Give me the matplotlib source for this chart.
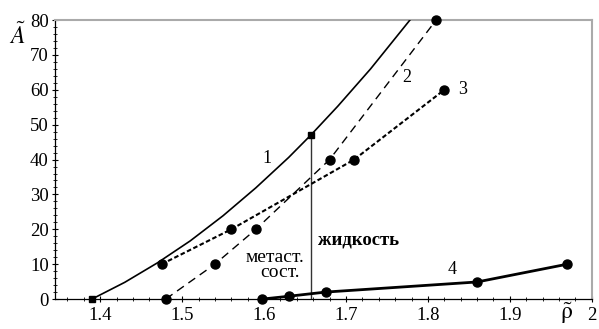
import matplotlib
matplotlib.use("Agg")
import matplotlib.pyplot as plt
from matplotlib.ticker import MultipleLocator

plt.rcParams['font.family'] = ['Liberation Serif', 'DejaVu Serif']
plt.rcParams['mathtext.fontset'] = 'stix'

# Curve 1 (solid)
c1_x = [1.39, 1.43, 1.47, 1.51, 1.55, 1.59, 1.63, 1.657, 1.69, 1.73, 1.778]
c1_y = [0.0, 4.8, 10.4, 16.7, 23.9, 31.9, 40.6, 47.0, 55.3, 66.0, 80.0]
c1_sq_x = [1.39, 1.657]
c1_sq_y = [0.0, 47.0]

# Curve 2 (long dashes)
c2_x = [1.48, 1.54, 1.59, 1.68, 1.81]
c2_y = [0, 10, 20, 40, 80]

# Curve 3 (short dashes)
c3_x = [1.475, 1.56, 1.71, 1.82]
c3_y = [10, 20, 40, 60]

# Curve 4 (thick solid)
c4_x = [1.598, 1.63, 1.675, 1.86, 1.97]
c4_y = [0, 0.8, 2.0, 4.9, 10]

# vertical separator
vline_x = 1.657
vline_top = 47.0

xticks = [1.4, 1.5, 1.6, 1.7, 1.8, 1.9, 2.0]
xticklabels = ['1.4', '1.5', '1.6', '1.7', '1.8', '1.9', '2']
yticks = [0, 10, 20, 30, 40, 50, 60, 70, 80]

fig = plt.figure(figsize=(5.99, 3.29), dpi=100)
ax = fig.add_axes([0.092, 0.091, 0.896, 0.848])

ax.plot([vline_x, vline_x], [0, vline_top], color='#333333', lw=1.0, zorder=1)

ax.plot(c1_x, c1_y, color='black', lw=1.2, zorder=3)
ax.plot(c1_sq_x, c1_sq_y, linestyle='none', marker='s', ms=5, color='black', zorder=4, clip_on=False)

ax.plot(c2_x, c2_y, color='black', lw=1.0, dashes=(6, 4), marker='o', ms=6.5,
        zorder=3, clip_on=False)
ax.plot(c3_x, c3_y, color='black', lw=1.5, dashes=(2.2, 1.2), marker='o', ms=6.5,
        zorder=3, clip_on=False)
ax.plot(c4_x, c4_y, color='black', lw=2.0, marker='o', ms=6.5, zorder=3, clip_on=False)

fs = 13.5
ax.text(1.604, 40.4, '1', fontsize=13, ha='center', va='center')
ax.text(1.774, 63.6, '2', fontsize=13, ha='center', va='center')
ax.text(1.842, 60.0, '3', fontsize=13, ha='center', va='center')
ax.text(1.829, 8.5, '4', fontsize=13, ha='center', va='center')
ax.text(1.613, 12.0, 'метаст.', fontsize=14, ha='center', va='center')
ax.text(1.619, 7.6, 'сост.', fontsize=14, ha='center', va='center')
ax.text(1.666, 17.0, 'жидкость', fontsize=13.5, ha='left', va='center', fontweight='bold')

ax.set_xlim(1.345, 2.0)
ax.set_ylim(0, 80)
ax.set_xticks(xticks)
ax.set_xticklabels(xticklabels)
ax.set_yticks(yticks)
ax.xaxis.set_minor_locator(MultipleLocator(0.02))
ax.yaxis.set_minor_locator(MultipleLocator(2))
ax.tick_params(axis='both', which='major', direction='inout', length=5, width=0.8, labelsize=fs, pad=2)
ax.tick_params(axis='both', which='minor', direction='inout', length=3, width=0.6)
ax.tick_params(axis='x', pad=3)

for s in ['left', 'bottom']:
    ax.spines[s].set_color('black')
    ax.spines[s].set_linewidth(0.9)
for s in ['top', 'right']:
    ax.spines[s].set_color('#aaaaaa')
    ax.spines[s].set_linewidth(1.5)

fig.text(17 / 599, 1 - 36 / 329, r'$\tilde{A}$', fontsize=17, ha='center', va='center')
fig.text(567 / 599, 1 - 313 / 329, r'$\tilde{\mathrm{\rho}}$', fontsize=17, ha='center', va='center')

fig.savefig('out.png', dpi=100)
